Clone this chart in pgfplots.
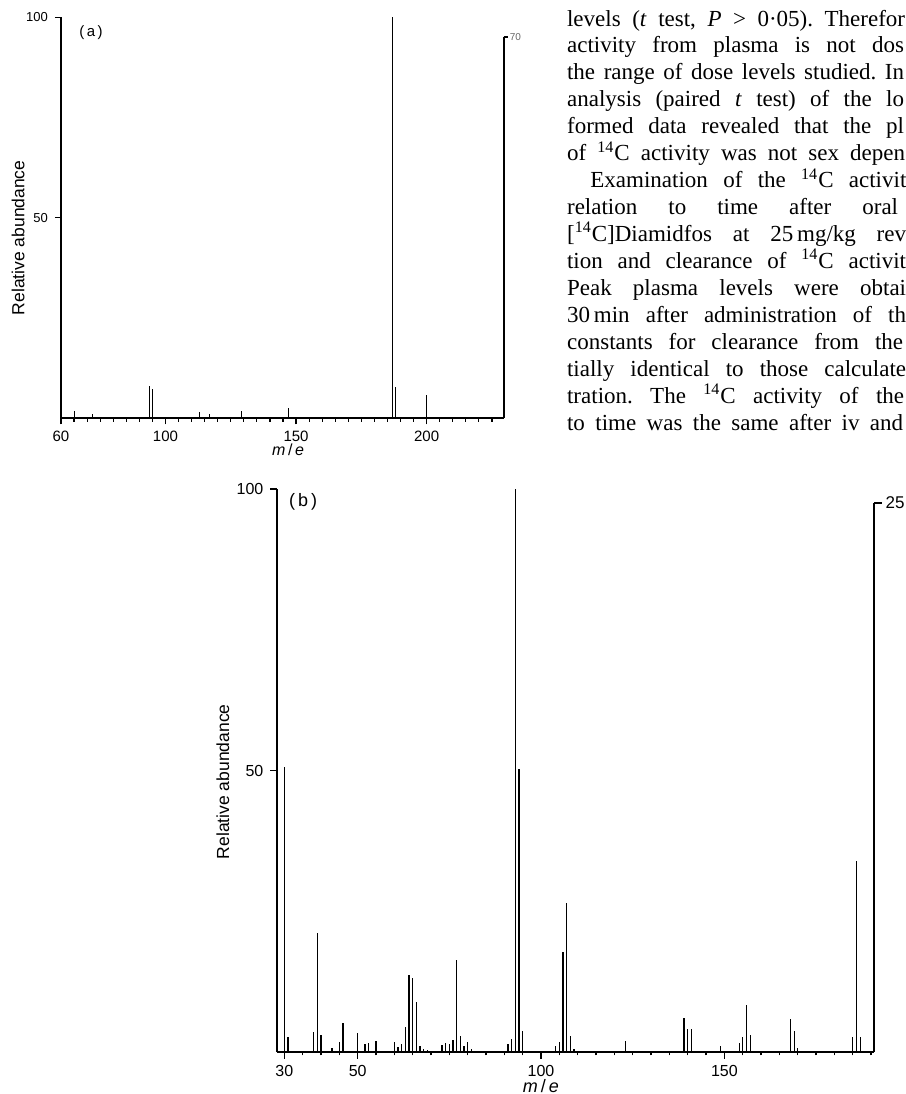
\documentclass[border=0pt]{standalone}
\usepackage{fontspec}
\setmainfont{Liberation Serif}
\setsansfont{Liberation Sans}
\usepackage{pgfplots}
\pgfplotsset{compat=1.18}
\frenchspacing

\pgfplotsset{
  spec/.style={
    scale only axis,
    ymin=0, ymax=100,
    axis x line=bottom, axis y line=left,
    axis line style={-, line width=0.85pt, black},
    ytick={50,100},
    tick align=outside,
    major tick length=3pt, minor tick length=1.7pt,
    every tick/.style={black, line width=0.6pt},
    /pgf/number format/assume math mode=true,
    clip=false,
  },
  peaks/.style={ycomb, black, line width=0.55pt, no markers},
}

\begin{document}
\begin{tikzpicture}
\useasboundingbox (0,0) rectangle (453pt,-547pt);

% ---------------- (a) ----------------
\begin{axis}[spec,
  at={(30.5pt,-209.15pt)}, anchor=south west,
  width=221.35pt, height=200.5pt,
  xmin=60, xmax=229.5,
  xtick={60,100,150,200}, minor xtick={65,70,...,225},
  xticklabel style={font=\sffamily\fontsize{7.5}{8}\selectfont},
  yticklabel style={font=\sffamily\fontsize{6.5}{7}\selectfont},
  xlabel={\textit{m}\,/\,\textit{e}},
  xlabel style={font=\sffamily\fontsize{8}{9}\selectfont, at={(axis description cs:0.513,-0.079)}, anchor=center},
  ylabel={Relative abundance},
  ylabel style={font=\sffamily\fontsize{8.75}{10}\selectfont, at={(axis description cs:-0.097,0.45)}, anchor=center},
]
\addplot[peaks] coordinates {(65,1.7) (72,1.0) (94,8.1) (95,7.3) (113,1.6) (117,1.0)
  (129,1.7) (147,2.6) (148.6,0.4) (187,100) (188,7.9) (200,5.9)};
\addplot[black, sharp plot, line width=0.85pt, no markers] coordinates {(229.5,0) (229.5,95.1)};
\draw[line width=0.6pt] (axis cs:229.5,95.1) -- ++(2pt,0pt)
  node[anchor=west, inner sep=0.8pt, text=black!60, font=\sffamily\fontsize{5}{6}\selectfont] {70};
\node[font=\sffamily\fontsize{7.5}{9}\selectfont] at (axis cs:71.5,96.3) {(\,a\,)};
\end{axis}

% ---------------- (b) ----------------
\begin{axis}[spec,
  at={(138.5pt,-526pt)}, anchor=south west,
  width=298.5pt, height=281.5pt,
  xmin=28, xmax=190.8,
  xtick={30,50,100,150}, minor xtick={35,40,...,190},
  xticklabel style={font=\sffamily\fontsize{8}{9}\selectfont},
  yticklabel style={font=\sffamily\fontsize{8}{9}\selectfont},
  major tick length=3.3pt,
  xlabel={\textit{m}\,/\,\textit{e}},
  xlabel style={font=\sffamily\fontsize{9}{10}\selectfont, at={(axis description cs:0.442,-0.060)}, anchor=center},
  ylabel={Relative abundance},
  ylabel style={font=\sffamily\fontsize{8.75}{10}\selectfont, at={(axis description cs:-0.0905,0.48)}, anchor=center},
]
\addplot[peaks] coordinates {(30,50.7) (31,2.7) (38,3.6) (39,21.2) (40,3.1) (43,0.65)
  (45,1.8) (46,5.1) (50,3.4) (52,1.4) (53,1.65) (55,2.0) (60,1.8) (61,0.9)
  (62,1.4) (63,4.5) (64,13.7) (65,13.1) (66,8.8) (67,1.0) (68,0.5) (69,0.3)
  (73,1.3) (74,1.6) (75,1.5) (76,2.1) (77,16.3) (78,2.9) (79,1.0) (80,1.7)
  (81,0.6) (91,1.5) (92,2.4) (93,100) (94,50.2) (95,3.7) (104,1.1) (105,1.8)
  (106,17.8) (107,26.4) (108,2.8) (109,0.6) (123,2.0) (139,6.1) (140,4.1)
  (141,4.1) (149,1.0) (154,1.6) (155,2.7) (156,8.3) (157,3.1) (168,5.9)
  (169,3.8) (170,0.8) (185,2.6) (186,33.9) (187,2.6)};
\addplot[black, sharp plot, line width=0.85pt, no markers] coordinates {(190.8,0) (190.8,97.5)};
\draw[line width=0.7pt] (axis cs:190.8,97.5) -- ++(4pt,0pt)
  node[anchor=west, inner sep=1.5pt, font=\sffamily\fontsize{8.5}{9}\selectfont] {25};
\node[font=\sffamily\fontsize{9}{10}\selectfont] at (axis cs:35.1,97.7) {(\,b\,)};
\end{axis}

% ---------------- page text (cut by the right edge, as in the reference) ----------------
\begin{scope}
\clip (0,0) rectangle (453pt,-547pt);
\tikzset{para/.style={anchor=base west, inner sep=0pt, font=\fontsize{11.5}{13}\selectfont}}
\node[para] at (283.35pt,-13pt)      {\makebox[169pt][s]{levels (\textit{t} test, \textit{P} > 0·05). Therefor}};
\node[para] at (283.35pt,-26.475pt)  {\makebox[168.5pt][s]{activity from plasma is not dos}};
\node[para] at (283.35pt,-39.95pt)   {\makebox[168.5pt][s]{the range of dose levels studied. In}};
\node[para] at (283.35pt,-53.425pt)  {\makebox[168.5pt][s]{analysis (paired \textit{t} test) of the lo}};
\node[para] at (283.35pt,-66.9pt)    {\makebox[168.5pt][s]{formed data revealed that the pl}};
\node[para] at (283.35pt,-80.375pt)  {\makebox[169pt][s]{of \textsuperscript{14}C activity was not sex depen}};
\node[para] at (295pt,-93.85pt)      {\makebox[158pt][s]{Examination of the \textsuperscript{14}C activit}};
\node[para] at (283.35pt,-107.325pt) {\makebox[165.5pt][s]{relation to time after oral}};
\node[para] at (283.35pt,-120.8pt)   {\makebox[169.5pt][s]{[\textsuperscript{14}C]Diamidfos at 25\,mg/kg rev}};
\node[para] at (283.35pt,-134.275pt) {\makebox[169.5pt][s]{tion and clearance of \textsuperscript{14}C activit}};
\node[para] at (283.35pt,-147.75pt)  {\makebox[169.5pt][s]{Peak plasma levels were obtai}};
\node[para] at (283.35pt,-161.225pt) {\makebox[169.5pt][s]{30\,min after administration of th}};
\node[para] at (283.35pt,-174.7pt)   {\makebox[168pt][s]{constants for clearance from the}};
\node[para] at (283.35pt,-188.175pt) {\makebox[169.5pt][s]{tially identical to those calculate}};
\node[para] at (283.35pt,-201.65pt)  {\makebox[168.5pt][s]{tration. The \textsuperscript{14}C activity of the}};
\node[para] at (283.35pt,-215.125pt) {\makebox[168pt][s]{to time was the same after iv and}};
\end{scope}
\end{tikzpicture}
\end{document}
